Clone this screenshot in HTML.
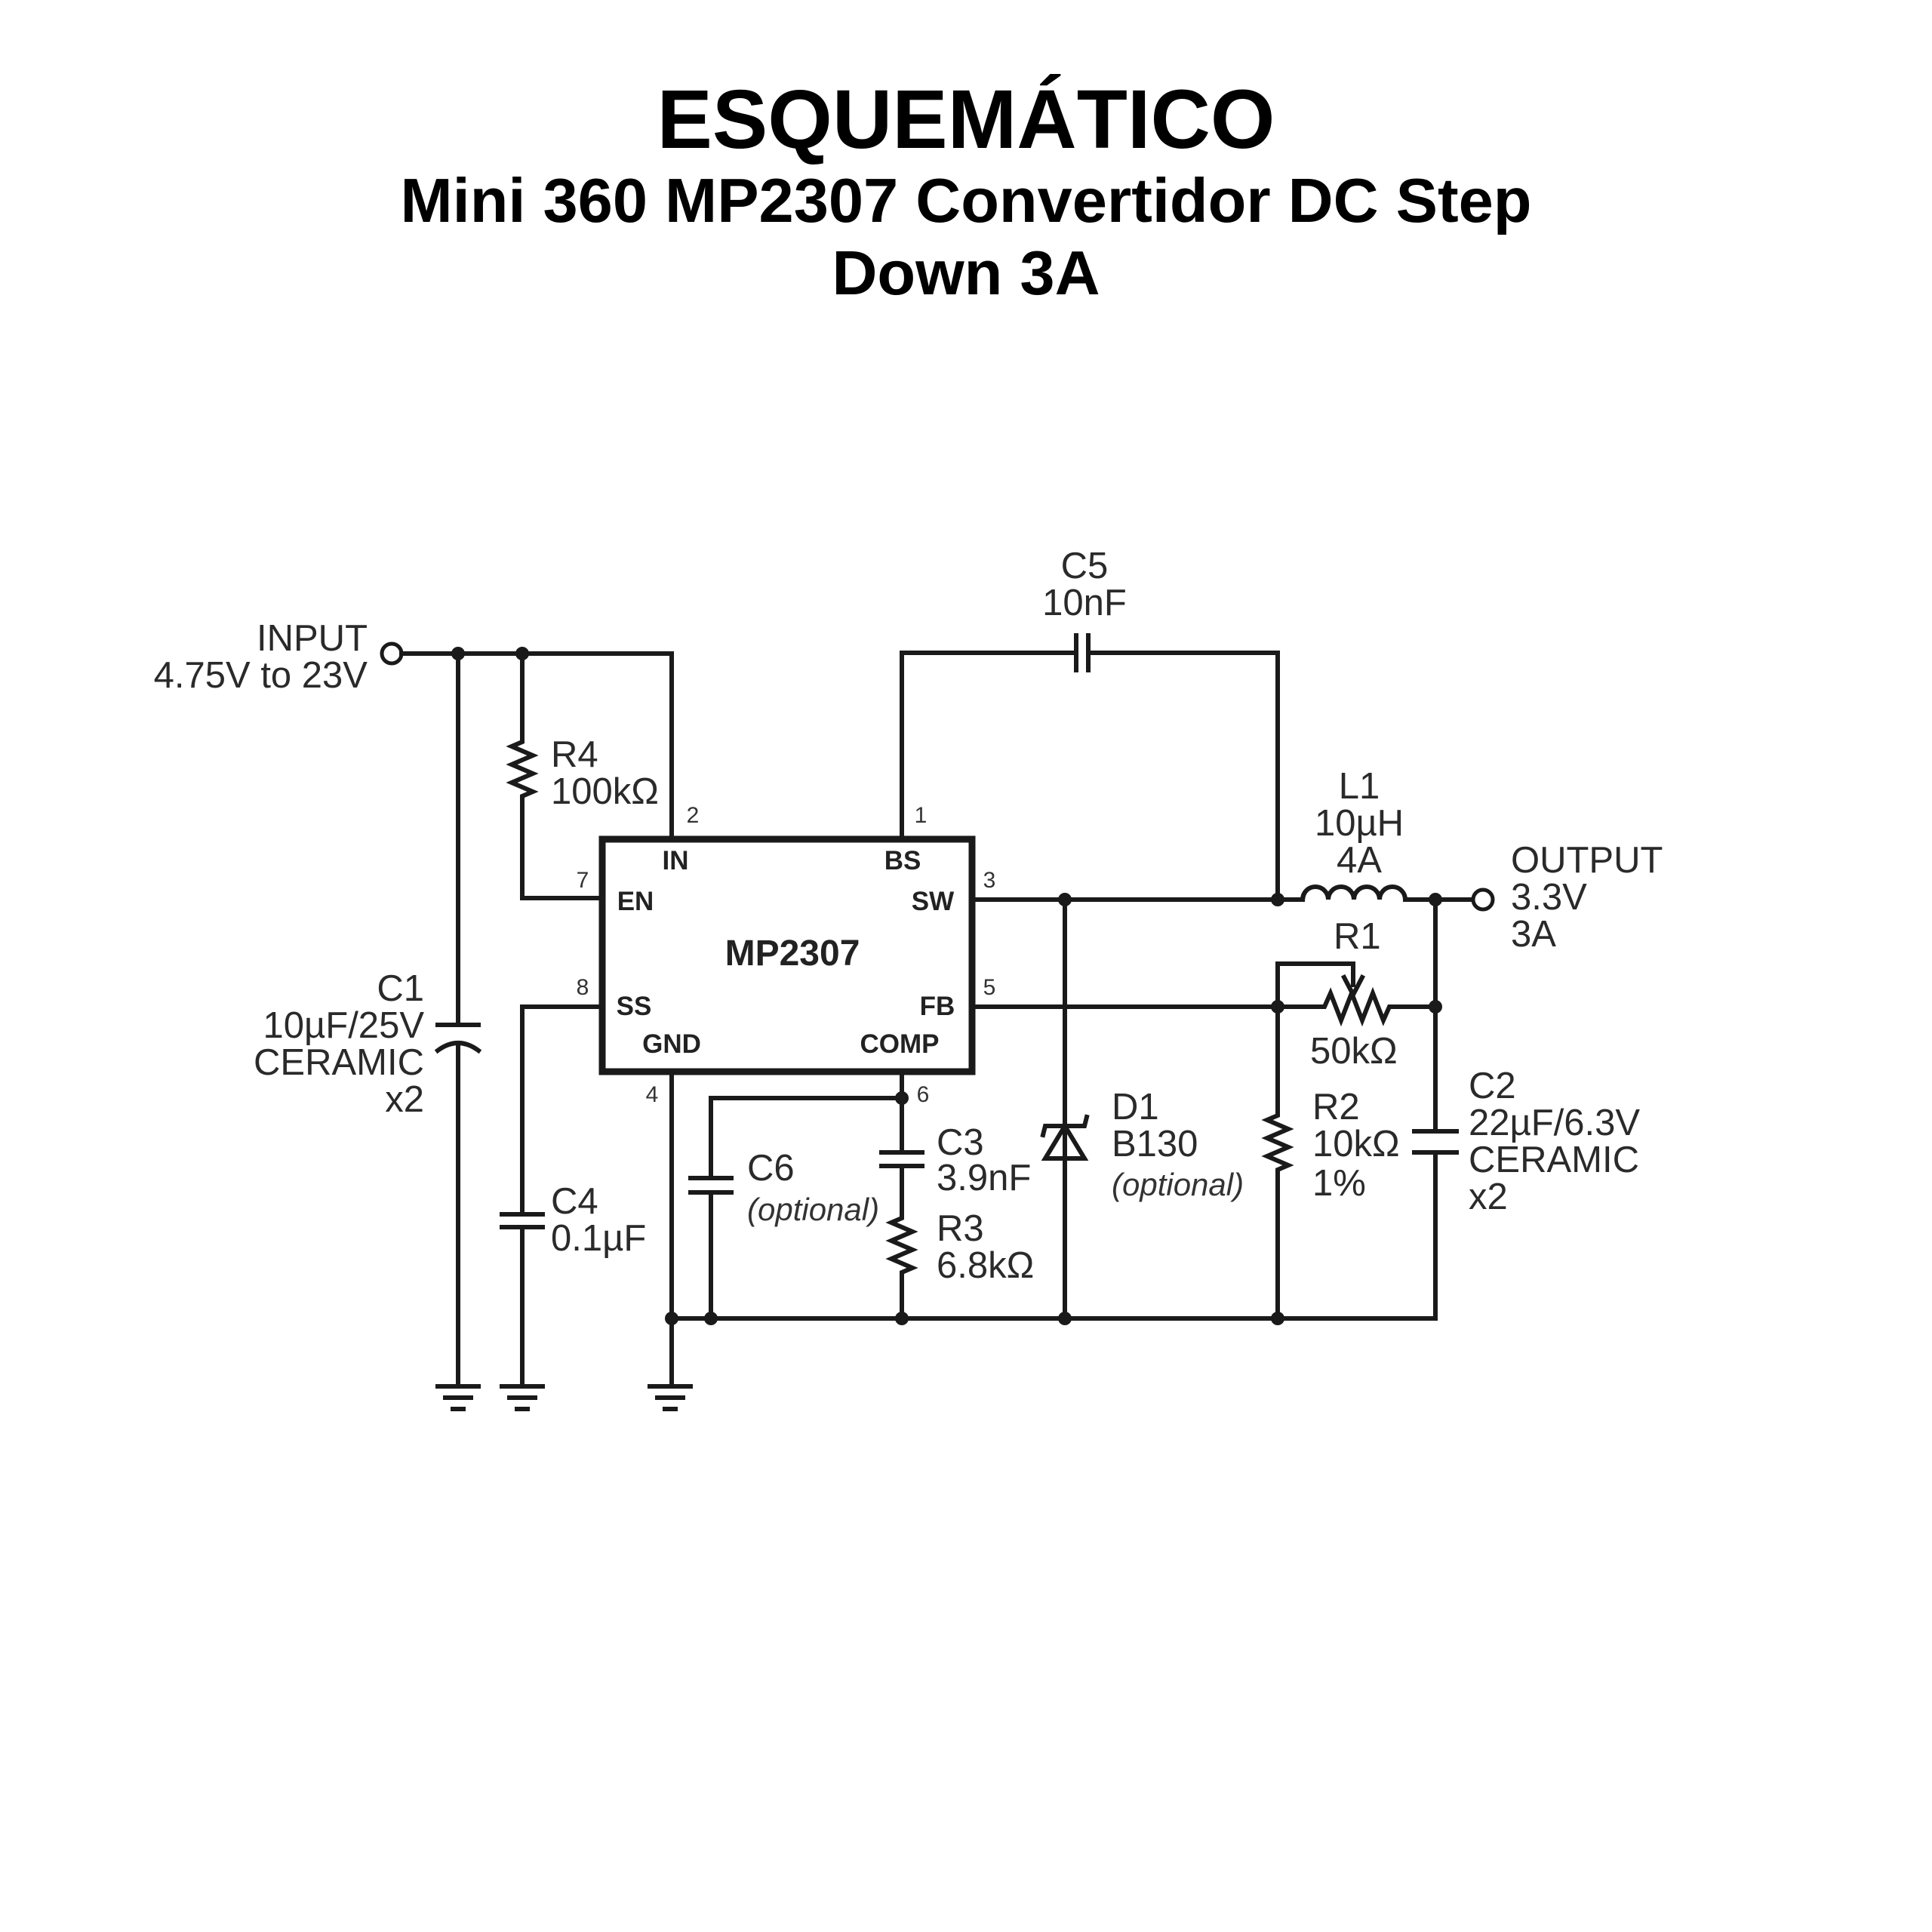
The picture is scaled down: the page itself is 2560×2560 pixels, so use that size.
<!DOCTYPE html>
<html><head><meta charset="utf-8"><style>
html,body{margin:0;padding:0;background:#fff;}
svg{display:block;}
.t{font-family:"Liberation Sans",sans-serif;font-size:49px;fill:#2a2a2a;}
.b{font-family:"Liberation Sans",sans-serif;font-size:35px;font-weight:bold;fill:#222;}
.p{font-family:"Liberation Sans",sans-serif;font-size:30px;fill:#333;}
.i{font-family:"Liberation Sans",sans-serif;font-size:42px;font-style:italic;fill:#333;}
.h{font-family:"Liberation Sans",sans-serif;font-weight:bold;fill:#000;}
</style></head><body>
<svg width="2560" height="2560" viewBox="0 0 2560 2560" xmlns="http://www.w3.org/2000/svg">
<text class="h" x="1280" y="196" style="font-size:110px" text-anchor="middle">ESQUEMÁTICO</text>
<text class="h" x="1280" y="294" style="font-size:83px" text-anchor="middle">Mini 360 MP2307 Convertidor DC Step</text>
<text class="h" x="1280" y="390" style="font-size:83px" text-anchor="middle">Down 3A</text>

<g stroke="#1a1a1a" stroke-width="6" fill="none" stroke-linecap="square">
<circle cx="519" cy="866" r="13" stroke-width="5"/>
<path d="M532 866 H890 V1108"/>
<path d="M607 866 V1358 M607 1385 V1832"/>
<path d="M580 1358 H634" />
<path d="M580 1392 Q607 1372 634 1392"/>
<path d="M692 866 V983 l-14 6 l28 12 l-28 12 l28 12 l-28 12 l28 12 l-14 6 V1190 H794"/>
<path d="M794 1334 H692 V1609 M692 1626 V1832"/>
<path d="M665 1609 H719 M665 1626 H719"/>
<rect x="798" y="1112" width="490" height="308" stroke-width="9"/>
<path d="M890 1420 V1832"/>
<path d="M890 1747 H1902 V1527 M1902 1499 V1192"/>
<path d="M1195 1420 V1527 M1195 1545 V1614 l-14 6 l28 12 l-28 12 l28 12 l-28 12 l28 12 l-14 6 V1747"/>
<path d="M1168 1527 H1222 M1168 1545 H1222"/>
<path d="M1195 1455 H942 V1561 M942 1580 V1747"/>
<path d="M915 1561 H969 M915 1580 H969"/>
<path d="M1195 1108 V865 H1426 M1442 865 H1693 V1192"/>
<path d="M1426 842 V888 M1442 842 V888"/>
<path d="M1288 1192 H1726"/>
<path d="M1726 1192 a17 17 0 0 1 34 0 a17 17 0 0 1 34 0 a17 17 0 0 1 34 0 a17 17 0 0 1 34 0 H1951"/>
<circle cx="1965" cy="1192" r="13" stroke-width="5"/>
<path d="M1411 1192 V1747"/>
<path d="M1385 1535 H1437 L1411 1492 Z" />
<path d="M1382 1504 L1385 1492 H1437 L1440 1480"/>
<path d="M1288 1334 H1755 l8 -18 l14 36 l14 -36 l14 36 l14 -36 l14 36 l8 -18 H1902"/>
<path d="M1693 1334 V1277 H1793 V1305"/>
<path d="M1781 1295 L1793 1318 L1805 1295"/>
<path d="M1693 1334 V1478 l-14 6 l28 12 l-28 12 l28 12 l-28 12 l28 12 l-14 6 V1747"/>
<path d="M1874 1499 H1930 M1874 1527 H1930"/>
<path d="M580 1837 H634 M590 1852 H624 M600 1867 H614"/>
<path d="M665 1837 H719 M675 1852 H709 M685 1867 H699"/>
<path d="M861 1837 H915 M871 1852 H905 M881 1867 H895"/>
</g>
<g fill="#1a1a1a">
<circle cx="607" cy="866" r="9"/><circle cx="692" cy="866" r="9"/>
<circle cx="1195" cy="1455" r="9"/>
<circle cx="1411" cy="1192" r="9"/><circle cx="1693" cy="1192" r="9"/><circle cx="1902" cy="1192" r="9"/>
<circle cx="1693" cy="1334" r="9"/><circle cx="1902" cy="1334" r="9"/>
<circle cx="890" cy="1747" r="9"/><circle cx="942" cy="1747" r="9"/><circle cx="1195" cy="1747" r="9"/><circle cx="1411" cy="1747" r="9"/><circle cx="1693" cy="1747" r="9"/>
</g>

<text class="t" x="487" y="862" text-anchor="end">INPUT</text>
<text class="t" x="487" y="911" text-anchor="end">4.75V to 23V</text>
<text class="t" x="730" y="1016">R4</text>
<text class="t" x="730" y="1065">100kΩ</text>
<text class="t" x="562" y="1326" text-anchor="end">C1</text>
<text class="t" x="562" y="1375" text-anchor="end">10µF/25V</text>
<text class="t" x="562" y="1424" text-anchor="end">CERAMIC</text>
<text class="t" x="562" y="1473" text-anchor="end">x2</text>
<text class="t" x="730" y="1608">C4</text>
<text class="t" x="730" y="1657">0.1µF</text>
<text class="t" x="990" y="1564">C6</text>
<text class="i" x="990" y="1617">(optional)</text>
<text class="t" x="1241" y="1530">C3</text>
<text class="t" x="1241" y="1577">3.9nF</text>
<text class="t" x="1241" y="1644">R3</text>
<text class="t" x="1241" y="1693">6.8kΩ</text>
<text class="t" x="1437" y="766" text-anchor="middle">C5</text>
<text class="t" x="1437" y="815" text-anchor="middle">10nF</text>
<text class="t" x="1801" y="1058" text-anchor="middle">L1</text>
<text class="t" x="1801" y="1107" text-anchor="middle">10µH</text>
<text class="t" x="1801" y="1156" text-anchor="middle">4A</text>
<text class="t" x="2002" y="1156">OUTPUT</text>
<text class="t" x="2002" y="1205">3.3V</text>
<text class="t" x="2002" y="1254">3A</text>
<text class="t" x="1767" y="1257">R1</text>
<text class="t" x="1736" y="1409">50kΩ</text>
<text class="t" x="1473" y="1483">D1</text>
<text class="t" x="1473" y="1532">B130</text>
<text class="i" x="1473" y="1584">(optional)</text>
<text class="t" x="1739" y="1483">R2</text>
<text class="t" x="1739" y="1532">10kΩ</text>
<text class="t" x="1739" y="1584">1%</text>
<text class="t" x="1946" y="1455">C2</text>
<text class="t" x="1946" y="1504">22µF/6.3V</text>
<text class="t" x="1946" y="1553">CERAMIC</text>
<text class="t" x="1946" y="1602">x2</text>

<text class="b" x="895" y="1152" text-anchor="middle">IN</text>
<text class="b" x="1196" y="1152" text-anchor="middle">BS</text>
<text class="b" x="842" y="1206" text-anchor="middle">EN</text>
<text class="b" x="1236" y="1206" text-anchor="middle">SW</text>
<text class="b" x="1050" y="1279" text-anchor="middle" style="font-size:48px">MP2307</text>
<text class="b" x="840" y="1345" text-anchor="middle">SS</text>
<text class="b" x="1242" y="1345" text-anchor="middle">FB</text>
<text class="b" x="890" y="1395" text-anchor="middle">GND</text>
<text class="b" x="1192" y="1395" text-anchor="middle">COMP</text>

<text class="p" x="918" y="1090" text-anchor="middle">2</text>
<text class="p" x="1220" y="1090" text-anchor="middle">1</text>
<text class="p" x="772" y="1176" text-anchor="middle">7</text>
<text class="p" x="1311" y="1176" text-anchor="middle">3</text>
<text class="p" x="772" y="1318" text-anchor="middle">8</text>
<text class="p" x="1311" y="1318" text-anchor="middle">5</text>
<text class="p" x="864" y="1460" text-anchor="middle">4</text>
<text class="p" x="1223" y="1460" text-anchor="middle">6</text>
</svg>
</body></html>
